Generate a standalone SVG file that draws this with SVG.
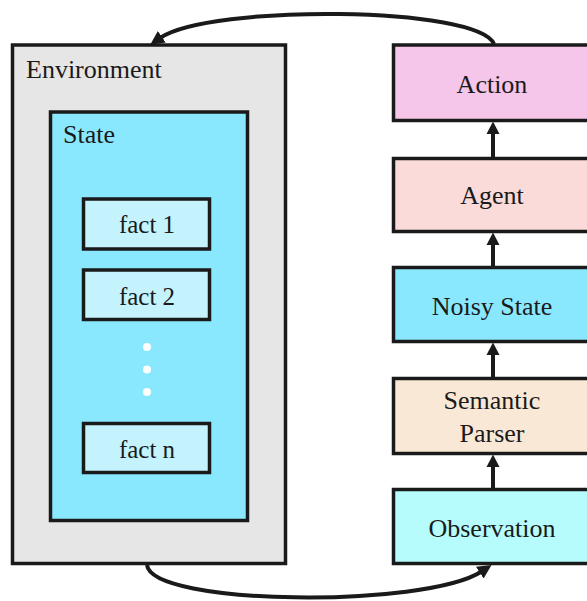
<svg xmlns="http://www.w3.org/2000/svg" width="587" height="601" viewBox="0 0 587 601">
<style>
.box{stroke:#1a1a1a;stroke-width:3.5}
text{font-family:"Liberation Serif","Times New Roman",Times,"DejaVu Serif","Noto Serif",serif;font-size:26px;fill:#1a1a1a}
.c{text-anchor:middle}
.f{font-size:25px}
.link{fill:none;stroke:#1a1a1a;stroke-width:4}
.head{fill:#1a1a1a}
</style>
<defs>
<marker id="ah" markerUnits="userSpaceOnUse" markerWidth="14" markerHeight="14" viewBox="0 0 13 13" refX="2" refY="6.5" orient="auto">
<path d="M0,0 L13,6.5 L0,13 z" fill="#1a1a1a"/>
</marker>
</defs>
<rect width="587" height="601" fill="#ffffff"/>
<g id="environment">
<rect class="box" x="12.5" y="45" width="273" height="518.5" fill="#e6e6e6"/>
<text x="26" y="78" font-family="Liberation Serif, serif">Environment</text>
</g>
<g id="state">
<rect class="box" x="50.5" y="112" width="197" height="408.5" fill="#8ae8fe"/>
<text x="63" y="143" font-family="Liberation Serif, serif">State</text>
</g>
<g id="fact1">
<rect class="box" x="83.5" y="199" width="126" height="50" fill="#c4f3fe"/>
<text class="c f" x="147" y="233">fact 1</text>
</g>
<g id="fact2">
<rect class="box" x="83.5" y="270" width="126" height="49.5" fill="#c4f3fe"/>
<text class="c f" x="147" y="305">fact 2</text>
</g>
<g id="dots">
<circle cx="147" cy="347" r="4" fill="#ffffff"/>
<circle cx="147" cy="369.5" r="4" fill="#ffffff"/>
<circle cx="147" cy="392" r="4" fill="#ffffff"/>
</g>
<g id="factn">
<rect class="box" x="83.5" y="423.5" width="126" height="49" fill="#c4f3fe"/>
<text class="c f" x="147" y="458">fact n</text>
</g>
<g id="action">
<rect class="box" x="393.5" y="45" width="200" height="75.5" fill="#f5c6e9"/>
<text class="c" x="492" y="92.5">Action</text>
</g>
<g id="agent">
<rect class="box" x="393.5" y="158.5" width="200" height="73" fill="#fadbd9"/>
<text class="c" x="492" y="204">Agent</text>
</g>
<g id="noisy-state">
<rect class="box" x="393.5" y="267.5" width="200" height="74" fill="#8ae8fe"/>
<text class="c" x="492" y="315">Noisy State</text>
</g>
<g id="semantic-parser">
<rect class="box" x="393.5" y="378.5" width="200" height="75" fill="#fae8d6"/>
<text class="c" x="492" y="409">Semantic</text>
<text class="c" x="492" y="442">Parser</text>
</g>
<g id="observation">
<rect class="box" x="393.5" y="489.5" width="200" height="74" fill="#b6fcfc"/>
<text class="c" x="492" y="537">Observation</text>
</g>
<g id="connectors">
<path class="link" d="M493,157 V132"/>
<polygon class="head" points="493,121.5 499.5,134 486.5,134"/>
<path class="link" d="M493,266 V243"/>
<polygon class="head" points="493,232.5 499.5,245 486.5,245"/>
<path class="link" d="M493,377 V353"/>
<polygon class="head" points="493,342.5 499.5,355 486.5,355"/>
<path class="link" d="M493,488 V465"/>
<polygon class="head" points="493,454.5 499.5,467 486.5,467"/>
<path class="link" d="M494,44 C478,6 210,4 160,38" marker-end="url(#ah)"/>
<path class="link" d="M147,565 C152,606 425,608 481.6,571.5" marker-end="url(#ah)"/>
</g>
</svg>
